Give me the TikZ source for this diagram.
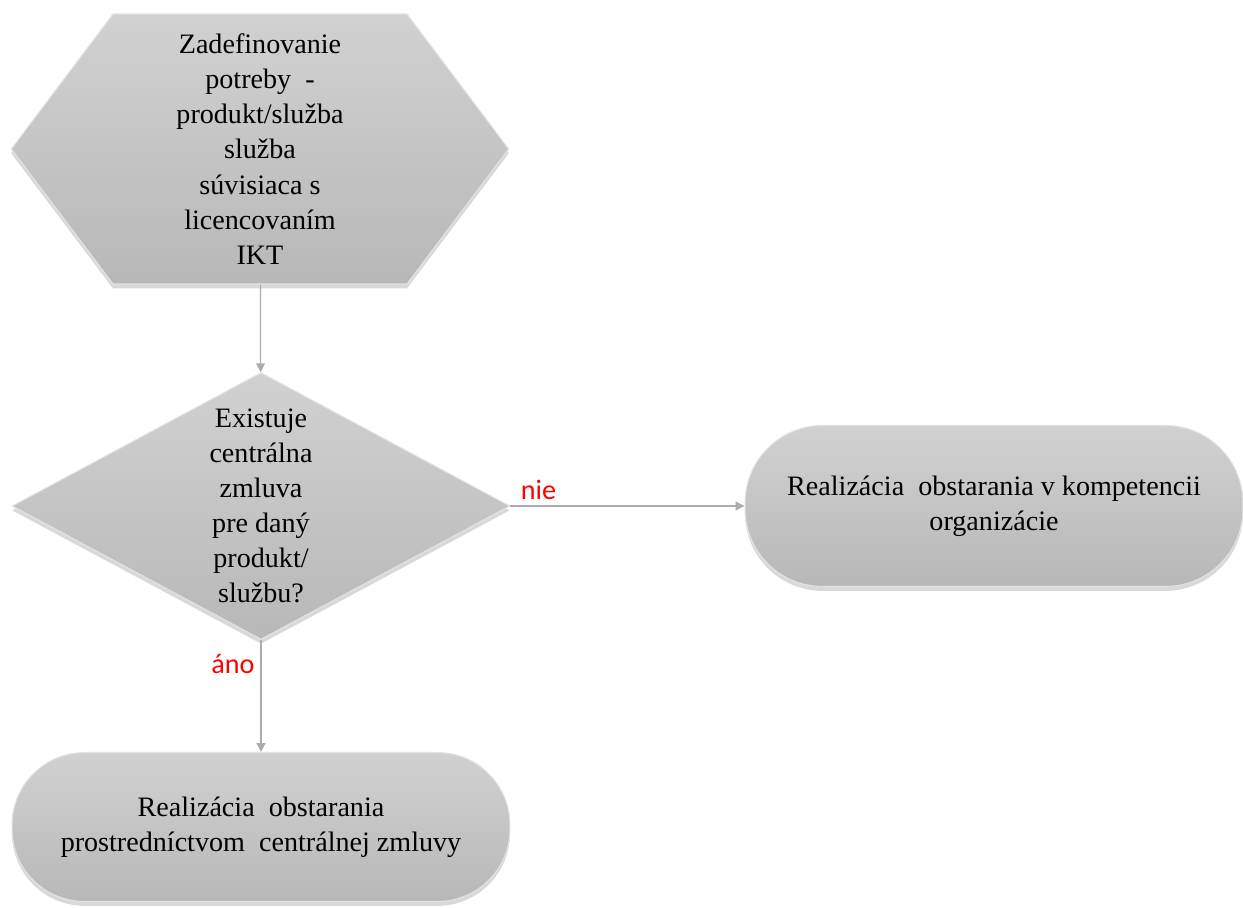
\documentclass[tikz,border=0pt]{standalone}
\usepackage{fontspec}
\setmainfont{Liberation Serif}
\newfontfamily\labelfont{Carlito}
\usetikzlibrary{shapes.geometric,shapes.symbols,shadows,arrows.meta}
\tikzset{
  box/.style={draw=gray!22, line width=0.6pt, top color=gray!36, middle color=gray!48, bottom color=gray!56,
    drop shadow={opacity=0.3, shadow xshift=0pt, shadow yshift=-2.5pt},
    font=\fontsize{16}{20}\selectfont, align=center},
  flow/.style={draw=gray!65, line width=0.7pt, -{Triangle[length=5pt,width=5pt]}},
  answer/.style={text=red, font=\labelfont\fontsize{16}{19}\selectfont}
}
\begin{document}
\begin{tikzpicture}[x=0.02cm,y=-0.02cm]
    \useasboundingbox (0,0) rectangle (1243,908);
    % nodes
    \node[box, signal, signal to=west and east, signal pointer angle=106,
          minimum width=9.95cm, minimum height=5.4cm, inner sep=0pt] (need) at (260,149)
        {Zadefinovanie\\potreby~ -\\produkt/služba\\služba\\súvisiaca s\\licencovaním\\IKT};
    \node[box, diamond, aspect=1, inner xsep=0pt, inner ysep=-1cm,
          minimum width=9.96cm, minimum height=5.34cm] (exists) at (261,506)
        {Existuje\\centrálna\\zmluva\\pre daný\\produkt/\\službu?};
    \node[box, rectangle, rounded corners=1.55cm, minimum width=9.96cm, minimum height=3.22cm] (own) at (994,506)
        {Realizácia~ obstarania v kompetencii\\organizácie};
    \node[box, rectangle, rounded corners=1.45cm, minimum width=9.96cm, minimum height=2.98cm] (central) at (261,827)
        {Realizácia~ obstarania\\prostredníctvom~ centrálnej zmluvy};
    % connectors
    \draw[flow] (need) -- (exists);
    \draw[flow] (exists.east) -- node[answer, above, pos=0.12] {nie} (own.west);
    \draw[flow] (exists.south) -- node[answer, left, pos=0.21] {áno} (central.north);
\end{tikzpicture}
\end{document}
